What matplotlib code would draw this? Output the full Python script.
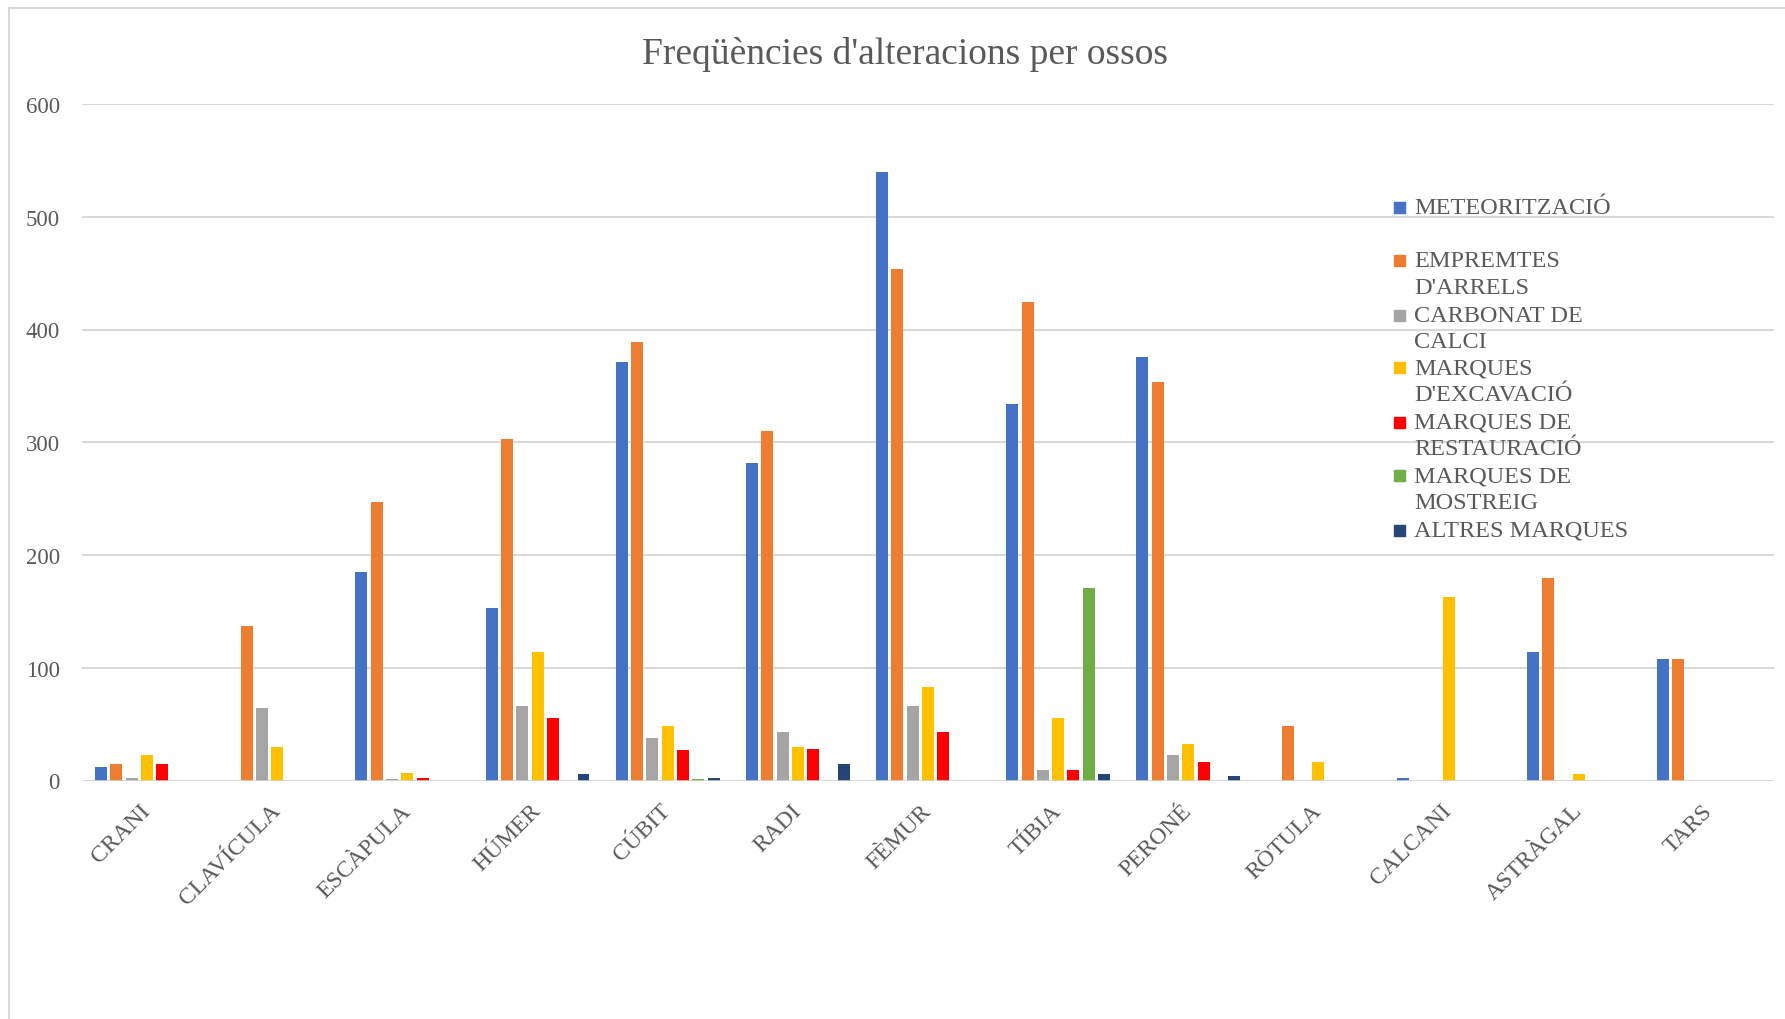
import matplotlib
matplotlib.use("Agg")
import matplotlib.pyplot as plt
import matplotlib.transforms as mtransforms
from matplotlib.lines import Line2D
from matplotlib.patches import Rectangle
import numpy as np

plt.rcParams['font.family'] = ['Liberation Serif', 'DejaVu Serif']

categories = ["CRANI", "CLAVÍCULA", "ESCÀPULA", "HÚMER", "CÚBIT", "RADI", "FÈMUR",
              "TÍBIA", "PERONÉ", "RÒTULA", "CALCANI", "ASTRÀGAL", "TARS"]

series_names = ["METEORITZACIÓ", "EMPREMTES D'ARRELS", "CARBONAT DE CALCI",
                "MARQUES D'EXCAVACIÓ", "MARQUES DE RESTAURACIÓ",
                "MARQUES DE MOSTREIG", "ALTRES MARQUES"]
legend_lines = [["METEORITZACIÓ"], ["EMPREMTES", "D'ARRELS"], ["CARBONAT DE", "CALCI"],
                ["MARQUES", "D'EXCAVACIÓ"], ["MARQUES DE", "RESTAURACIÓ"],
                ["MARQUES DE", "MOSTREIG"], ["ALTRES MARQUES"]]

meteoritzacio = [12, 0, 185, 153, 371, 282, 540, 334, 376, 0, 2, 114, 108]
empremtes     = [15, 137, 247, 303, 389, 310, 454, 424, 353, 48, 0, 180, 108]
carbonat      = [2, 64, 1, 66, 38, 43, 66, 9, 23, 0, 0, 0, 0]
excavacio     = [23, 30, 7, 114, 48, 30, 83, 55, 32, 16, 163, 6, 0]
restauracio   = [15, 0, 2, 55, 27, 28, 43, 9, 16, 0, 0, 0, 0]
mostreig      = [0, 0, 0, 0, 1, 0, 0, 171, 0, 0, 0, 0, 0]
altres        = [0, 0, 0, 6, 2, 15, 0, 6, 4, 0, 0, 0, 0]

series = [meteoritzacio, empremtes, carbonat, excavacio, restauracio, mostreig, altres]
colors = ["#4472C4", "#ED7D31", "#A5A5A5", "#FFC000", "#FF0000", "#70AD47", "#264478"]

yticks = [0, 100, 200, 300, 400, 500, 600]

W, H = 1785, 1020
fig = plt.figure(figsize=(W / 100, H / 100), dpi=100)
fig.patch.set_facecolor("white")

# thin chart-area frame on the top and left
fig.add_artist(Line2D([9 / W, 1.0], [1 - 9 / H, 1 - 9 / H], color="#D9D9D9", lw=1.5))
fig.add_artist(Line2D([9 / W, 9 / W], [0, 1 - 9 / H], color="#D9D9D9", lw=1.5))

ax = fig.add_axes([82 / W, (H - 781.5) / H, (1774 - 82) / W, (781.5 - 105) / H])

x = np.arange(len(categories))
slot = 0.1177
bw = 0.092
for i, (vals, c) in enumerate(zip(series, colors)):
    ax.bar(x + (i - 3) * slot, vals, width=bw, color=c, zorder=3)

ax.set_xlim(-0.5, len(categories) - 0.5)
ax.set_ylim(0, 600)
ax.set_yticks(yticks)
ax.set_yticklabels([str(v) for v in yticks])
ax.yaxis.grid(True, color="#D9D9D9", lw=1.5, zorder=0)
ax.set_axisbelow(True)
for s in ax.spines.values():
    s.set_visible(False)
ax.axhline(0, color="#D9D9D9", lw=1.8, zorder=4)
ax.tick_params(axis="y", length=0, pad=16, labelsize=16.5, labelcolor="#595959")
ax.tick_params(axis="x", length=0, pad=14, labelsize=17, labelcolor="#595959")
ax.set_xticks(x)
ax.set_xticklabels(categories, rotation=45, ha="right", va="top")
offset = mtransforms.ScaledTranslation(7.5 / 100, 0, fig.dpi_scale_trans)
for lbl in ax.get_xticklabels():
    lbl.set_transform(lbl.get_transform() + offset)

fig.text(905 / W, 1 - 54 / H, "Freqüències d'alteracions per ossos",
         ha="center", va="center", fontsize=27, color="#595959")

# legend drawn as colored squares with wrapped labels
row_tops = [208, 261.5, 316, 368.5, 423, 476.5, 531]
line_h = 27
sq = 11
for lines, c, yc in zip(legend_lines, colors, row_tops):
    fig.add_artist(Rectangle(((1399 - sq / 2) / W, (H - yc - sq / 2) / H), sq / W, sq / H,
                             color=c, transform=fig.transFigure))
    for k, t in enumerate(lines):
        fig.text(1414 / W, (H - yc - k * line_h) / H, t, ha="left", va="center",
                 fontsize=17.5, color="#595959")

fig.savefig("out.png", dpi=100, facecolor="white")
